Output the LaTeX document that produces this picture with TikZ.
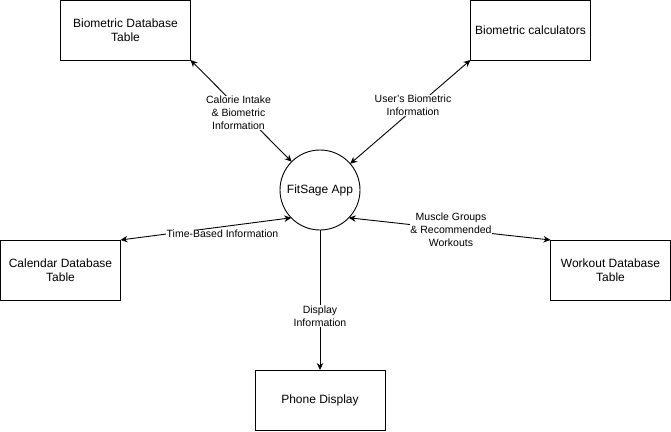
\documentclass[tikz,border=0pt]{standalone}
\usepackage{fontspec}
\setmainfont{Liberation Sans}
\usetikzlibrary{arrows.meta}
\tikzset{
  box/.style={draw=black, line width=0.9pt, fill=white, outer sep=0pt, align=center,
    font=\fontsize{12}{14}\selectfont, inner sep=0pt},
  appc/.style={draw=black, line width=0.9pt, circle, minimum size=80pt, outer sep=0pt,
    inner sep=0pt, font=\fontsize{12}{14}\selectfont},
  lbl/.style={fill=white, inner sep=0.5pt, align=center, font=\fontsize{10.5}{13}\selectfont},
  conn/.style={line width=0.9pt, {Stealth[length=7pt,width=6.5pt]}-{Stealth[length=7pt,width=6.5pt]}},
  oneway/.style={line width=0.9pt, -{Stealth[length=7pt,width=6.5pt]}}
}
\begin{document}
\begin{tikzpicture}[x=1pt,y=-1pt]
\useasboundingbox (0,0) rectangle (671,431);
\node[box, minimum width=130pt, minimum height=60pt] (bdb) at (125.5,30) {Biometric Database\\Table};
\node[box, minimum width=120pt, minimum height=60pt] (calc) at (530.5,30) {Biometric calculators};
\node[box, minimum width=120pt, minimum height=60pt] (cal) at (60.5,270) {Calendar Database\\Table};
\node[box, minimum width=120pt, minimum height=60pt] (wk) at (610.5,270) {Workout Database\\Table};
\node[box, minimum width=130pt, minimum height=60pt] (ph) at (320,400) {Phone Display};
\node[appc] (app) at (320,190) {FitSage App};

\draw[conn] (bdb.south east) -- (app.135);
\draw[conn] (calc.south west) -- (app.41);
\draw[conn] (cal.north east) -- (app.224);
\draw[conn] (wk.north west) -- (app.316);
\draw[oneway] (app.south) -- (ph.north);

\node[lbl] (l1) at (238.5,113) {Calorie Intake\\\& Biometric\\Information};
\node[lbl] (l2) at (413,105.5) {User{\char"0027}s Biometric\\Information};
\node[lbl] (l3) at (222.5,234) {Time-Based Information};
\node[lbl] (l4) at (451,229.5) {Muscle Groups\\\& Recommended\\Workouts};
\node[lbl] (l5) at (320,316) {Display\\Information};
\end{tikzpicture}
\end{document}
